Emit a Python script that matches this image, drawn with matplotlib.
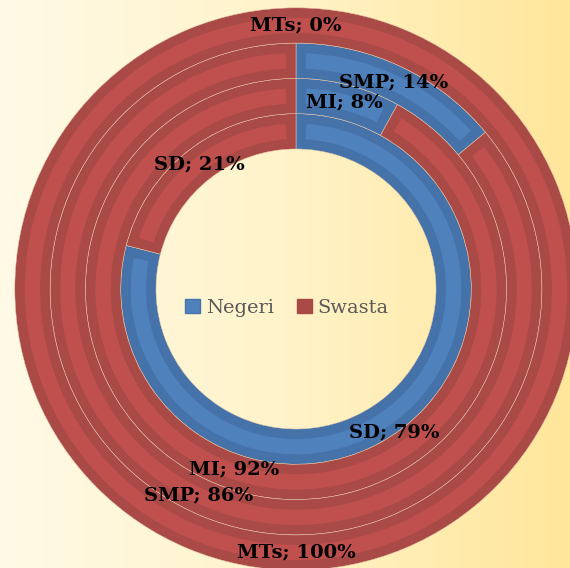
import numpy as np
import matplotlib
matplotlib.use("Agg")
import matplotlib.pyplot as plt
from matplotlib.patches import Wedge, Patch
from matplotlib.colors import LinearSegmentedColormap

# data (inner ring -> outer ring)
levels = ["SD", "MI", "SMP", "MTs"]
negeri = [79, 8, 14, 0]
swasta = [21, 92, 86, 100]
series = ["Negeri", "Swasta"]

# colours: (border, face)
blue = ("#4672AA", "#4F81BD")
red = ("#A94A47", "#C0504D")

W, H = 570, 568
fig = plt.figure(figsize=(W / 100, H / 100), dpi=100)
ax = fig.add_axes([0, 0, 1, 1])
cx, cy = 0, 0
ax.set_xlim(-296, W - 296)
ax.set_ylim(-(H - 289), 289)
ax.set_aspect("equal")
ax.axis("off")

# background gradient
grad = np.linspace(0, 1, 256).reshape(1, -1)
bg = LinearSegmentedColormap.from_list("bg", ["#FFFAE6", "#FFF3C9", "#FFE69A"])
ax.imshow(grad, cmap=bg, extent=[-296, W - 296, -(H - 289), 289], aspect="auto", zorder=0)

r_hole = 140
ring_w = 35.3
inset = 10

# small label nudges (dx, dy) in pixels, like the Excel placement
nudge = {("SD", 79): (2, -19), ("MI", 92): (-14, 6)}


def draw_wedge(r_out, t1, t2, cols, full):
    ax.add_patch(Wedge((cx, cy), r_out, t1, t2, width=ring_w, facecolor=cols[0],
                       edgecolor="#E9C9A8", linewidth=0.35, zorder=2))
    r_mid = r_out - ring_w / 2
    dt = 0 if full else np.degrees(inset / r_mid)
    ax.add_patch(Wedge((cx, cy), r_out - inset, t1 + dt, t2 - dt, width=ring_w - 2 * inset,
                       facecolor=cols[1], edgecolor="none", zorder=3))


for i, lev in enumerate(levels):
    r_out = r_hole + ring_w * (i + 1)
    r_lab = r_out - ring_w / 2
    cum = 0
    for val, cols in ((negeri[i], blue), (swasta[i], red)):
        t2 = 90 - 3.6 * cum
        t1 = 90 - 3.6 * (cum + val)
        if val > 0:
            draw_wedge(r_out, t1, t2, cols, val == 100)
        mid = np.radians((t1 + t2) / 2)
        dx, dy = nudge.get((lev, val), (0, 0))
        ax.text(cx + r_lab * np.cos(mid) + dx, cy + r_lab * np.sin(mid) + dy, f"{lev}; {val}%",
                ha="center", va="center", fontsize=14, fontweight="bold",
                family="DejaVu Serif", color="black", zorder=5)
        cum += val

handles = [Patch(facecolor=blue[1], edgecolor=blue[0]), Patch(facecolor=red[0], edgecolor=red[0])]
leg = ax.legend(handles, series, loc="center", bbox_to_anchor=(287 / W, 1 - 308 / H),
                bbox_transform=fig.transFigure, ncol=2, frameon=False,
                handlelength=0.75, handleheight=0.75, handletextpad=0.3, columnspacing=1.2,
                prop={"family": "DejaVu Serif", "size": 14})
for t in leg.get_texts():
    t.set_color("#595959")

fig.savefig("out.png", dpi=100)
